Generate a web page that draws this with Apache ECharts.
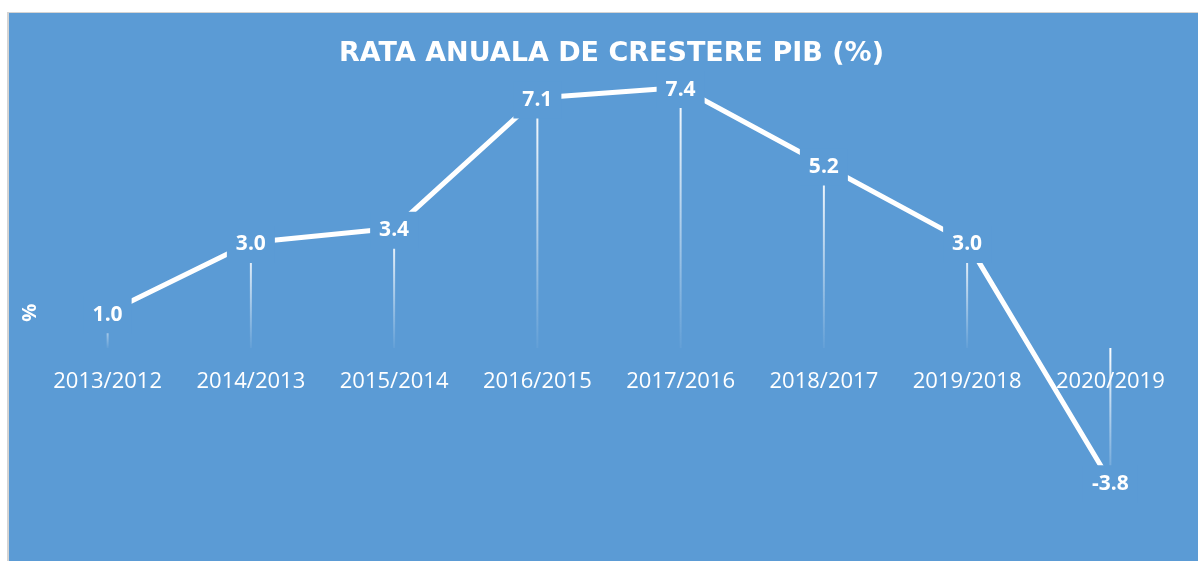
<!DOCTYPE html>
<html>
<head>
<meta charset="utf-8">
<script src="https://cdn.jsdelivr.net/npm/echarts@6/dist/echarts.min.js"></script>
<style>
  html, body { margin: 0; padding: 0; background: #ffffff; }
  #bg { position: absolute; left: 7px; top: 12px; width: 1189px; height: 548px;
        background: #5B9BD5; border-left: 2px solid #d4d4d4; border-top: 1px solid #d4d4d4; }
  #chart { position: absolute; left: 0; top: 0; width: 1198px; height: 561px; }
</style>
</head>
<body>
<div id="bg"></div>
<div id="chart"></div>
<script>
const titleText = 'RATA ANUALA DE CRESTERE PIB (%)';
const yAxisName = '%';
const categories = ['2013/2012', '2014/2013', '2015/2014', '2016/2015', '2017/2016', '2018/2017', '2019/2018', '2020/2019'];
const growth = [1.0, 3.0, 3.4, 7.1, 7.4, 5.2, 3.0, -3.8];

const BLUE = '#5B9BD5';
const FONT = '"Open Sans", "Noto Sans", sans-serif';

const Y_MIN = -6, Y_MAX = 8;
const GRID_TOP = 66.4, GRID_BOTTOM = 1.8, H = 561;
const plotH = H - GRID_TOP - GRID_BOTTOM;
const zeroY = GRID_TOP + plotH * (Y_MAX / (Y_MAX - Y_MIN));
const axisOffset = -((H - GRID_BOTTOM) - zeroY);

const chart = echarts.init(document.getElementById('chart'), null, { renderer: 'canvas' });
chart.setOption({
  backgroundColor: 'transparent',
  animation: false,
  title: {
    text: titleText,
    left: 334,
    top: 35,
    textStyle: { color: '#ffffff', fontFamily: '"DejaVu Sans", sans-serif', fontWeight: 'bold', fontSize: 27 }
  },
  grid: { left: 36, right: 16, top: GRID_TOP, bottom: GRID_BOTTOM, containLabel: false, outerBoundsMode: 'none' },
  xAxis: {
    type: 'category',
    data: categories,
    boundaryGap: true,
    position: 'bottom',
    offset: axisOffset,
    axisLine: { show: false, onZero: false },
    axisTick: { show: false },
    axisLabel: { color: '#ffffff', fontFamily: FONT, fontSize: 22, margin: 23 },
    splitLine: { show: false }
  },
  yAxis: {
    type: 'value',
    min: Y_MIN,
    max: Y_MAX,
    interval: 2,
    name: yAxisName,
    nameLocation: 'middle',
    nameRotate: 90,
    nameGap: -4,
    nameTextStyle: { color: '#ffffff', fontFamily: FONT, fontWeight: 'bold', fontSize: 20 },
    axisLine: { show: false },
    axisTick: { show: false },
    axisLabel: { show: false },
    splitLine: { show: false }
  },
  series: [
    {
      type: 'bar',
      data: growth,
      barWidth: 2,
      z: 1,
      itemStyle: {
        color: new echarts.graphic.LinearGradient(0, 0, 0, 1, [
          { offset: 0, color: 'rgba(255,255,255,1)' },
          { offset: 1, color: 'rgba(255,255,255,0.05)' }
        ])
      },
      silent: true
    },
    {
      type: 'line',
      data: growth,
      z: 3,
      symbol: 'circle',
      symbolSize: 2,
      showSymbol: true,
      itemStyle: { color: '#ffffff' },
      lineStyle: { color: '#ffffff', width: 5 },
      label: {
        show: true,
        position: 'inside',
        offset: [0, 2],
        formatter: p => p.value.toFixed(1),
        color: '#ffffff',
        fontFamily: FONT,
        fontWeight: 'bold',
        fontSize: 21,
        backgroundColor: BLUE,
        padding: [8, 9, 8, 9]
      }
    }
  ]
});
</script>
</body>
</html>
